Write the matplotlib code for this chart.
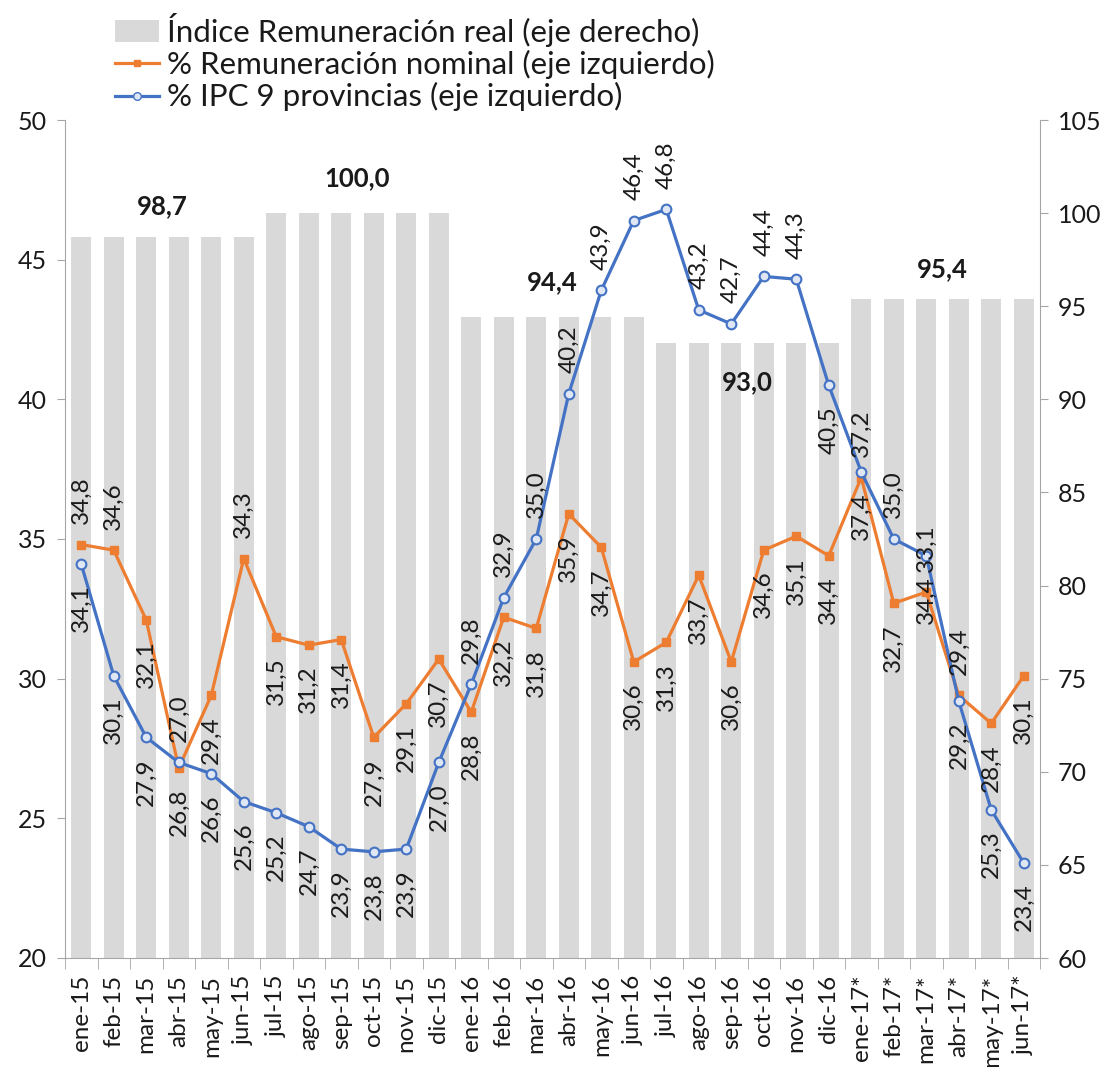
import matplotlib
matplotlib.use("Agg")
import matplotlib.pyplot as plt
from matplotlib.lines import Line2D
from matplotlib.patches import Patch
import numpy as np

plt.rcParams['font.family'] = ['Lato', 'DejaVu Sans']

# ---------------- data ----------------
months = ["ene-15", "feb-15", "mar-15", "abr-15", "may-15", "jun-15",
          "jul-15", "ago-15", "sep-15", "oct-15", "nov-15", "dic-15",
          "ene-16", "feb-16", "mar-16", "abr-16", "may-16", "jun-16",
          "jul-16", "ago-16", "sep-16", "oct-16", "nov-16", "dic-16",
          "ene-17*", "feb-17*", "mar-17*", "abr-17*", "may-17*", "jun-17*"]

indice_real = [98.7] * 6 + [100.0] * 6 + [94.4] * 6 + [93.0] * 6 + [95.4] * 6

rem_nominal = [34.8, 34.6, 32.1, 26.8, 29.4, 34.3, 31.5, 31.2, 31.4, 27.9, 29.1, 30.7,
               28.8, 32.2, 31.8, 35.9, 34.7, 30.6, 31.3, 33.7, 30.6, 34.6, 35.1, 34.4,
               37.2, 32.7, 33.1, 29.4, 28.4, 30.1]

ipc = [34.1, 30.1, 27.9, 27.0, 26.6, 25.6, 25.2, 24.7, 23.9, 23.8, 23.9, 27.0,
       29.8, 32.9, 35.0, 40.2, 43.9, 46.4, 46.8, 43.2, 42.7, 44.4, 44.3, 40.5,
       37.4, 35.0, 34.4, 29.2, 25.3, 23.4]

legend_labels = ["Índice Remuneración real (eje derecho)",
                 "% Remuneración nominal (eje izquierdo)",
                 "% IPC 9 provincias (eje izquierdo)"]

# ---------------- layout / style ----------------
nom_pos = list("AABBBABBBBBBBBBBBBBBBBBBABAABB")
ipc_pos = list("BBBABBBBBBBBAAAAAAAAAAABBABBBB")
group_label_dy = [1.7, 1.9, 1.9, -2.1, 1.6]

GRAY_BAR = "#D9D9D9"
ORANGE = "#ED7D31"
BLUE = "#4472C4"
AXIS_GRAY = "#A6A6A6"
TXT = "#1a1a1a"

fig = plt.figure(figsize=(11.15, 10.67), dpi=100)
ax_bar = fig.add_axes([65 / 1115, 1 - 958 / 1067, (1040 - 65) / 1115, (958 - 120) / 1067])
ax = ax_bar.twinx()

x = np.arange(len(months))

# bars (right axis)
ax_bar.bar(x, indice_real, width=0.62, color=GRAY_BAR, zorder=1)
ax_bar.set_ylim(60, 105)
ax_bar.set_yticks(np.arange(60, 106, 5))
ax_bar.yaxis.tick_right()
ax_bar.set_xlim(-0.5, len(months) - 0.5)

# lines (left axis)
ax.plot(x, rem_nominal, color=ORANGE, lw=2.3, marker='s', ms=5.5,
        mfc=ORANGE, mec=ORANGE, zorder=3)
ax.plot(x, ipc, color=BLUE, lw=2.3, marker='o', ms=7, mfc="#dfe7f5",
        mec=BLUE, mew=1.5, zorder=4)
ax.set_ylim(20, 50)
ax.set_yticks(np.arange(20, 51, 5))
ax.yaxis.tick_left()
ax.set_xlim(-0.5, len(months) - 0.5)

def fmt(v):
    return f"{v:.1f}".replace(".", ",")

LBL_FS = 17.5
OFF = 32
for xi, v, p in zip(x, rem_nominal, nom_pos):
    dy = OFF if p == 'A' else -OFF
    ax.annotate(fmt(v), (xi, v), xytext=(0, dy), textcoords='offset points',
                rotation=90, ha='center', va='center', fontsize=LBL_FS,
                color=TXT, zorder=6)
for xi, v, p in zip(x, ipc, ipc_pos):
    dy = OFF if p == 'A' else -OFF
    ax.annotate(fmt(v), (xi, v), xytext=(0, dy), textcoords='offset points',
                rotation=90, ha='center', va='center', fontsize=LBL_FS,
                color=TXT, zorder=6)

# group labels for bars
for g in range(5):
    val = indice_real[g * 6]
    xc = g * 6 + 2.5
    ax_bar.text(xc, val + group_label_dy[g], fmt(val), ha='center', va='center',
                fontsize=18.5, fontweight='bold', color=TXT, zorder=6)

# axes styling
for a in (ax, ax_bar):
    a.spines['top'].set_visible(False)
ax.spines['right'].set_visible(False)
ax.spines['bottom'].set_visible(False)
ax_bar.spines['left'].set_visible(False)
ax.spines['left'].set_color(AXIS_GRAY)
for s in ('right', 'bottom'):
    ax_bar.spines[s].set_color(AXIS_GRAY)

ax.tick_params(axis='y', which='major', direction='out', length=6, color=AXIS_GRAY,
               labelsize=18, labelcolor=TXT, pad=7)
ax_bar.tick_params(axis='y', which='major', direction='out', length=6, color=AXIS_GRAY,
                   labelsize=18, labelcolor=TXT, pad=7)

ax.tick_params(axis='x', which='both', bottom=False, labelbottom=False)
ax_bar.set_xticks(x)
ax_bar.set_xticklabels(months, rotation=90, fontsize=17.5, color=TXT)
ax_bar.set_xticks(np.arange(-0.5, len(months), 1), minor=True)
ax_bar.tick_params(axis='x', which='major', length=0, pad=12)
ax_bar.tick_params(axis='x', which='minor', length=8, color=AXIS_GRAY, direction='out')

# legend
handles = [Patch(facecolor=GRAY_BAR, edgecolor='none'),
           Line2D([0], [0], color=ORANGE, lw=2.3, marker='s', ms=4.5, mfc=ORANGE, mec=ORANGE),
           Line2D([0], [0], color=BLUE, lw=2.3, marker='o', ms=5.5, mfc="#dfe7f5", mec=BLUE)]
fig.legend(handles, legend_labels, loc='upper left', bbox_to_anchor=(115 / 1115, 1 - 13 / 1067),
           frameon=False, fontsize=22.5, handlelength=1.4, handletextpad=0.25,
           labelspacing=0.1, borderpad=0, borderaxespad=0, labelcolor=TXT)

fig.savefig("out.png", dpi=100)
